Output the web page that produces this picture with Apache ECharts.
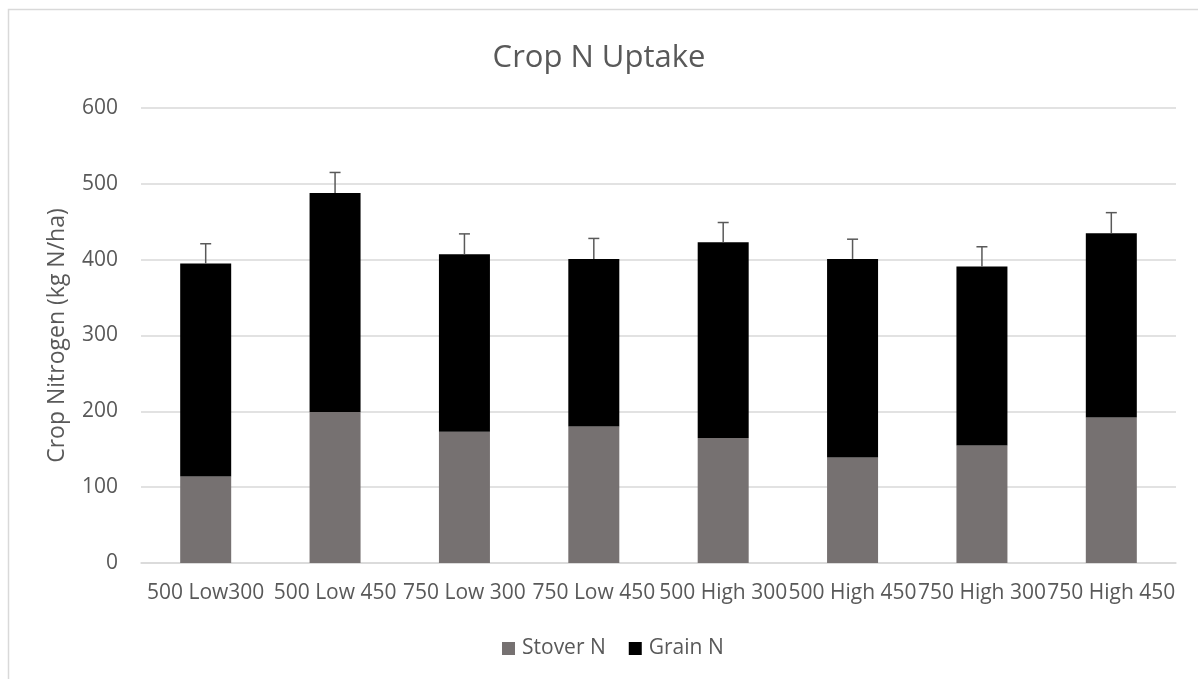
<!DOCTYPE html>
<html>
<head>
<meta charset="utf-8">
<script src="https://cdn.jsdelivr.net/npm/echarts@6/dist/echarts.min.js"></script>
<style>
html,body{margin:0;padding:0;background:#fff;}
#chart{width:1198px;height:679px;}
</style>
</head>
<body>
<div id="chart"></div>
<script>
var categories = ['500 Low300','500 Low 450','750 Low 300','750 Low 450','500 High 300','500 High 450','750 High 300','750 High 450'];
var stoverN = [114, 199, 173, 180, 165, 139, 155, 192];
var grainN  = [281, 289, 234, 221, 258, 262, 236, 243];
var errorN  = [26, 27, 27, 27, 26, 26, 26, 27];

var totals = stoverN.map(function (s, i) { return s + grainN[i]; });
var errData = totals.map(function (t, i) { return [i, t, t + errorN[i]]; });

var FONT = 'Open Sans';
var chart = echarts.init(document.getElementById('chart'), null, {renderer: 'canvas'});
chart.setOption({
  animation: false,
  backgroundColor: '#ffffff',
  textStyle: {fontFamily: FONT},
  graphic: [{
    type: 'rect', silent: true, z: -1,
    shape: {x: 8.5, y: 9.5, width: 1400, height: 900},
    style: {fill: 'none', stroke: '#d9d9d9', lineWidth: 1.5}
  }],
  title: {
    text: 'Crop N Uptake', left: 'center', top: 38,
    textStyle: {fontFamily: FONT, fontSize: 31, fontWeight: 'normal', color: '#595959'}
  },
  legend: {
    data: ['Stover N', 'Grain N'],
    left: 502, top: 638, padding: 0,
    itemWidth: 13, itemHeight: 13, itemGap: 23,
    icon: 'rect',
    textStyle: {fontFamily: FONT, fontSize: 21, color: '#595959', padding: [0, 0, 0, 2]}
  },
  grid: {left: 141, right: 22, top: 108, bottom: 116, containLabel: false},
  xAxis: {
    type: 'category', data: categories,
    axisLine: {show: true, lineStyle: {color: '#d9d9d9', width: 1.5}},
    axisTick: {show: false},
    axisLabel: {interval: 0, margin: 20, fontFamily: FONT, fontSize: 21, color: '#595959', hideOverlap: false}
  },
  yAxis: {
    type: 'value', min: 0, max: 600, interval: 100,
    name: 'Crop Nitrogen (kg N/ha)', nameLocation: 'middle', nameGap: 72,
    nameTextStyle: {fontFamily: FONT, fontSize: 23, color: '#595959'},
    axisLine: {show: false}, axisTick: {show: false},
    axisLabel: {margin: 23, fontFamily: FONT, fontSize: 21, color: '#595959'},
    splitLine: {lineStyle: {color: '#d9d9d9', width: 1.5}}
  },
  series: [
    {name: 'Stover N', type: 'bar', stack: 'n', data: stoverN, barWidth: 51, itemStyle: {color: '#767171'}},
    {name: 'Grain N', type: 'bar', stack: 'n', data: grainN, barWidth: 51, itemStyle: {color: '#000000'}},
    {
      name: 'err', type: 'custom', data: errData, z: 5,
      renderItem: function (params, api) {
        var x = api.value(0);
        var lo = api.coord([x, api.value(1)]);
        var hi = api.coord([x, api.value(2)]);
        var hw = 5.5;
        var st = {stroke: '#595959', lineWidth: 1.5};
        return {type: 'group', children: [
          {type: 'line', shape: {x1: lo[0], y1: lo[1], x2: hi[0], y2: hi[1]}, style: st},
          {type: 'line', shape: {x1: hi[0] - hw, y1: hi[1], x2: hi[0] + hw, y2: hi[1]}, style: st}
        ]};
      }
    }
  ]
});
</script>
</body>
</html>
